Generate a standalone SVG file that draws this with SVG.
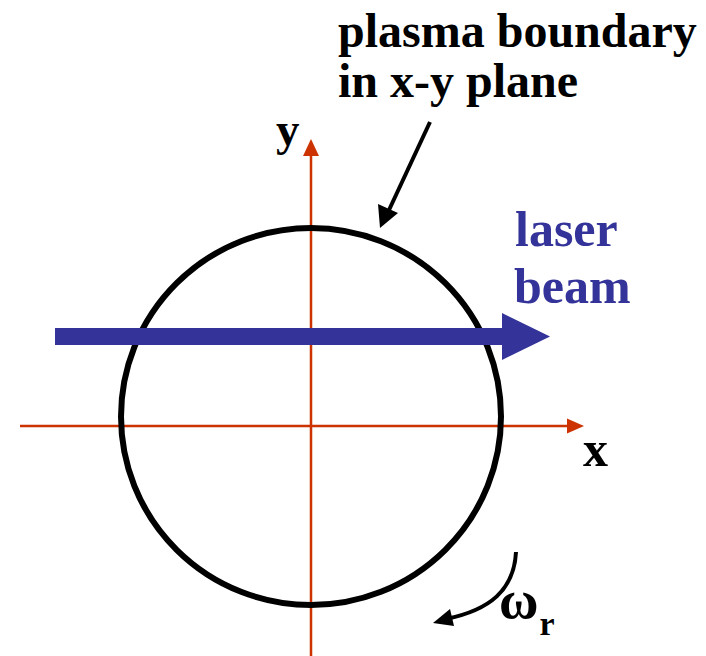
<svg xmlns="http://www.w3.org/2000/svg" width="706" height="656" viewBox="0 0 706 656">
<style>
.t{font-family:'Liberation Serif','Times New Roman',Times,serif;font-weight:700;font-size:48px;fill:#000}
.b{fill:#333399;font-size:50px}
.ax{stroke:#CC3300;stroke-width:2.5;fill:none}
</style>
<rect width="706" height="656" fill="#fff"/>
<g id="axes">
<line class="ax" x1="311" y1="154" x2="311" y2="656"/>
<polygon points="311,139 303,156 319,156" fill="#CC3300"/>
<line class="ax" x1="20" y1="426" x2="570" y2="426"/>
<polygon points="584,426 567,418.5 567,433.5" fill="#CC3300"/>
<text class="t" x="276" y="145" style="font-size:47px">y</text>
<text class="t" x="583" y="466" style="font-size:50px">x</text>
</g>
<g id="boundary">
<ellipse cx="311" cy="416.5" rx="190" ry="188.5" fill="none" stroke="#000" stroke-width="6"/>
</g>
<g id="label">
<text class="t" x="338" y="47">plasma boundary</text>
<text class="t" x="338" y="97">in x-y plane</text>
</g>
<g id="laser">
<line x1="55" y1="336.5" x2="505" y2="336.5" stroke="#333399" stroke-width="17"/>
<polygon points="550,336.5 502,313 502,360" fill="#333399"/>
<text class="t b" x="515" y="246">laser</text>
<text class="t b" x="514" y="303">beam</text>
</g>
<g id="rotation">
<text class="t" x="499" y="618" style="font-size:54px">ω<tspan dx="1" dy="17" style="font-size:34px">r</tspan></text>
<path d="M516,552 C514,590 490,610 446,619" fill="none" stroke="#000" stroke-width="4"/>
<polygon points="433,623 450,609 454,626" fill="#000"/>
</g>
<g id="connectors">
<line x1="430" y1="122" x2="389" y2="210" stroke="#000" stroke-width="4"/>
<polygon points="380,228 378,204 398,213" fill="#000"/>
</g>
</svg>
